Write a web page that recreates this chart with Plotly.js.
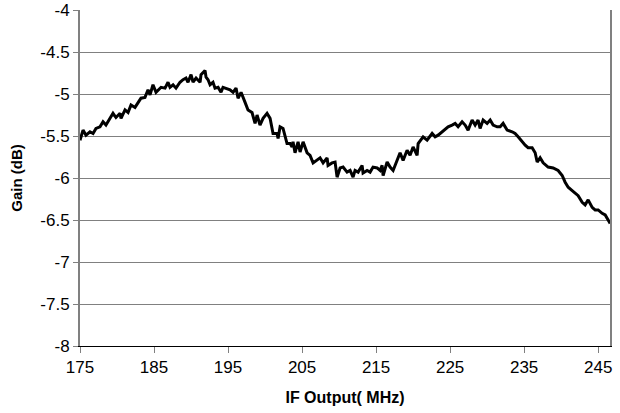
<!DOCTYPE html>
<html>
<head>
<meta charset="utf-8">
<script src="https://cdn.plot.ly/plotly-3.0.1.min.js"></script>
<style>html,body{margin:0;padding:0;background:#fff;}#chart{width:620px;height:413px;}</style>
</head>
<body>
<div id="chart"></div>
<script>
const freqMHz = [175.00,175.41,175.81,176.35,176.76,177.16,177.70,178.11,178.51,179.05,179.46,179.86,180.41,180.54,181.08,181.49,181.89,182.43,182.84,183.24,183.78,184.19,184.46,184.86,185.27,185.81,
185.95,186.49,186.89,187.16,187.57,187.97,188.51,188.92,189.32,189.59,190.00,190.27,190.68,191.22,191.35,191.89,192.03,192.30,192.57,192.97,193.24,193.65,194.05,194.32,194.73,195.27,195.68,196.08,196.35,196.76,
197.30,197.70,198.24,198.65,198.92,199.32,199.73,200.27,200.68,201.08,201.62,201.76,202.03,202.43,202.97,203.38,203.65,203.78,204.05,204.46,204.73,205.14,205.68,206.08,206.49,207.03,207.43,207.84,208.38,208.51,209.05,209.46,209.73,210.14,210.54,211.08,211.49,211.89,212.16,212.57,213.11,213.24,213.78,214.19,214.59,215.14,215.54,215.81,215.95,216.49,216.89,217.30,217.84,218.24,
218.65,219.19,219.59,220.00,220.54,220.68,221.35,221.89,222.57,222.97,223.38,223.92,224.32,224.73,225.27,225.68,226.08,226.62,227.03,227.43,227.97,228.38,228.78,229.05,229.46,230.00,230.41,230.81,231.35,231.76,232.16,232.70,233.38,233.78,234.19,234.73,235.14,235.54,236.08,236.49,236.76,237.16,237.57,238.24,238.92,239.59,240.14,240.54,240.95,241.49,241.89,242.30,242.84,243.24,243.65,244.19,244.59,245.00,245.54,245.95,246.35,246.62];

const gainDb = [-5.55,-5.43,-5.49,-5.45,-5.47,-5.41,-5.39,-5.33,-5.37,-5.28,-5.23,-5.28,-5.23,-5.29,-5.19,-5.22,-5.13,-5.16,-5.10,-5.05,-5.04,-4.95,-5.01,-4.89,-4.98,-4.93,
-4.92,-4.93,-4.86,-4.92,-4.89,-4.93,-4.86,-4.83,-4.81,-4.86,-4.77,-4.86,-4.81,-4.86,-4.77,-4.72,-4.80,-4.83,-4.89,-4.86,-4.93,-4.92,-4.98,-4.92,-4.93,-4.95,-4.98,-4.93,-5.05,-4.98,
-5.10,-5.19,-5.22,-5.35,-5.25,-5.37,-5.29,-5.23,-5.29,-5.47,-5.47,-5.53,-5.39,-5.41,-5.59,-5.59,-5.63,-5.57,-5.70,-5.57,-5.69,-5.57,-5.70,-5.73,-5.82,-5.79,-5.76,-5.82,-5.76,-5.85,-5.82,-5.81,-5.99,-5.88,-5.87,-5.93,-5.91,-5.99,-5.91,-5.93,-5.85,-5.94,-5.91,-5.93,-5.87,-5.88,-5.91,-5.85,-5.97,-5.81,-5.87,-5.91,-5.79,-5.70,
-5.79,-5.67,-5.73,-5.63,-5.73,-5.59,-5.51,-5.55,-5.47,-5.51,-5.49,-5.45,-5.41,-5.39,-5.37,-5.35,-5.39,-5.33,-5.37,-5.43,-5.31,-5.37,-5.31,-5.41,-5.31,-5.35,-5.31,-5.37,-5.39,-5.39,-5.35,-5.43,-5.45,-5.47,-5.51,-5.57,-5.61,-5.64,-5.64,-5.70,-5.81,-5.76,-5.82,-5.87,-5.88,-5.91,-5.97,-6.05,-6.11,-6.15,-6.18,-6.21,-6.29,-6.32,-6.26,-6.35,-6.38,-6.38,-6.42,-6.44,-6.50,-6.54];

const xTicks = [175,185,195,205,215,225,235,245];
const xTickLabels = ["175","185","195","205","215","225","235","245"];
const yTicks = [-8,-7.5,-7,-6.5,-6,-5.5,-5,-4.5,-4];
const yTickLabels = ["-8","-7.5","-7","-6.5","-6","-5.5","-5","-4.5","-4"];

const font = "Liberation Sans, Arial, Helvetica, sans-serif";

Plotly.newPlot('chart', [{
  x: freqMHz, y: gainDb, type: 'scatter', mode: 'lines',
  line: {color: '#000000', width: 3}, hoverinfo: 'skip'
}], {
  width: 620, height: 413,
  margin: {l: 80, r: 10, t: 10, b: 67},
  paper_bgcolor: '#ffffff', plot_bgcolor: '#ffffff',
  showlegend: false,
  font: {family: font, size: 17, color: '#000'},
  xaxis: {
    range: [175, 246.6], tickvals: xTicks, ticktext: xTickLabels,
    showgrid: false, zeroline: false,
    showline: true, linecolor: '#000', linewidth: 1,
    ticks: 'outside', ticklen: 6, tickcolor: '#808080',
    tickfont: {family: font, size: 17},
    title: {text: '<b>IF Output( MHz)</b>', font: {family: font, size: 16}, standoff: 15}
  },
  yaxis: {
    range: [-8, -4], tickvals: yTicks, ticktext: yTickLabels,
    showgrid: true, gridcolor: '#808080', gridwidth: 1, zeroline: false,
    showline: true, linecolor: '#808080', linewidth: 2, mirror: true,
    ticks: 'outside', ticklen: 5, tickcolor: '#808080',
    tickfont: {family: font, size: 17},
    title: {text: '<b>Gain (dB)</b>', font: {family: font, size: 15}, standoff: 14}
  }
}, {staticPlot: true});
</script>
</body>
</html>
